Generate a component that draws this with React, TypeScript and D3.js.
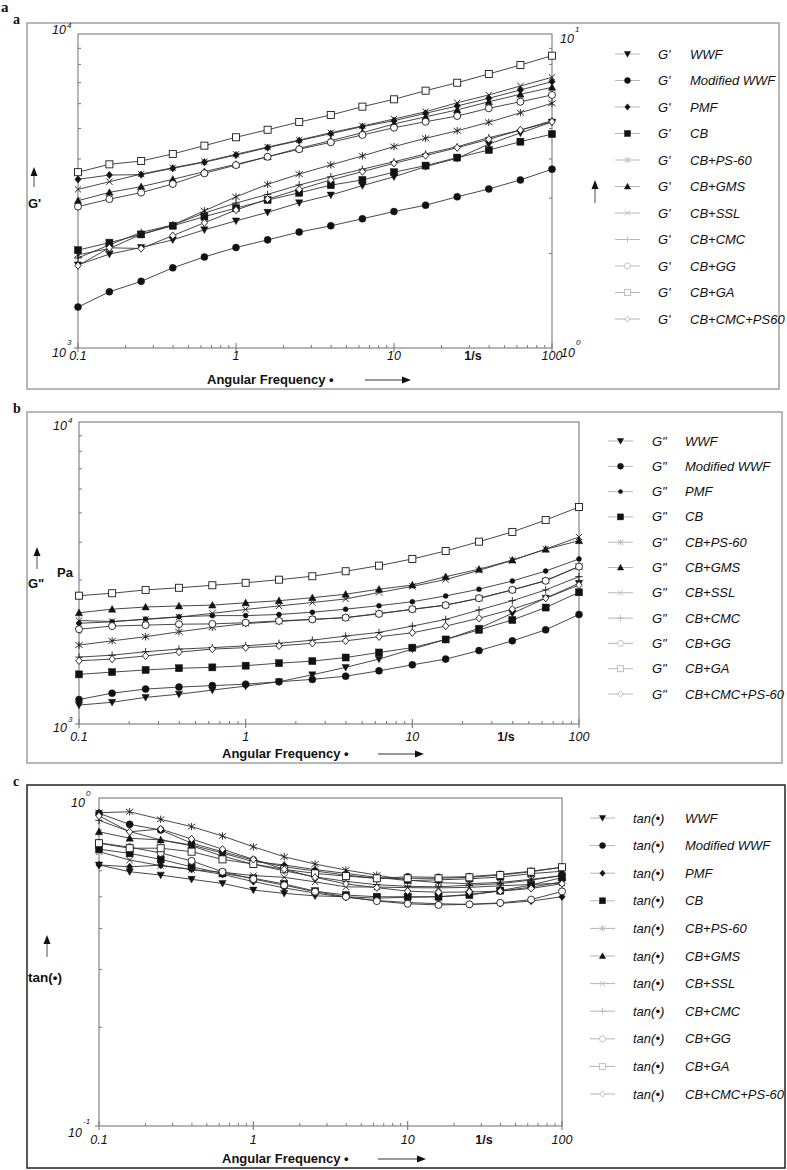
import React from 'react';
import * as d3 from 'd3';

// ---------- DATA ----------
const FREQ = [0.1, 0.158, 0.251, 0.398, 0.631, 1, 1.585, 2.512, 3.981, 6.31, 10, 15.85, 25.12, 39.81, 63.1, 100];
const NAMES_A = ['WWF', 'Modified WWF', 'PMF', 'CB', 'CB+PS-60', 'CB+GMS', 'CB+SSL', 'CB+CMC', 'CB+GG', 'CB+GA', 'CB+CMC+PS60'];
const NAMES_BC = ['WWF', 'Modified WWF', 'PMF', 'CB', 'CB+PS-60', 'CB+GMS', 'CB+SSL', 'CB+CMC', 'CB+GG', 'CB+GA', 'CB+CMC+PS-60'];
const X_TICK_LABELS = ['0.1', '1', '10', '100'];

// Panel a: G' (Pa)
const gp_WWF = [1840, 1990, 2090, 2210, 2380, 2540, 2705, 2900, 3070, 3290, 3510, 3780, 4020, 4460, 4840, 5245];
const gp_ModWWF = [1350, 1510, 1630, 1800, 1950, 2090, 2210, 2340, 2450, 2580, 2720, 2850, 3030, 3210, 3430, 3710];
const gp_PMF = [3445, 3555, 3565, 3735, 3905, 4115, 4345, 4575, 4815, 5070, 5295, 5590, 5900, 6240, 6635, 7050];
const gp_CB = [2050, 2165, 2300, 2450, 2620, 2790, 2960, 3120, 3300, 3430, 3630, 3810, 4040, 4270, 4540, 4800];
const gp_PS60 = [1980, 2075, 2300, 2465, 2735, 3030, 3320, 3580, 3830, 4090, 4380, 4655, 4920, 5235, 5615, 6015];
const gp_GMS = [2945, 3130, 3265, 3445, 3645, 3845, 4065, 4325, 4575, 4850, 5170, 5450, 5730, 6085, 6425, 6765];
const gp_SSL = [3200, 3385, 3580, 3750, 3920, 4140, 4365, 4595, 4850, 5095, 5360, 5655, 6040, 6395, 6830, 7280];
const gp_CMC = [1935, 2130, 2335, 2465, 2690, 2895, 3085, 3305, 3510, 3710, 3920, 4150, 4375, 4675, 4945, 5295];
const gp_GG = [2820, 2980, 3125, 3330, 3600, 3825, 4065, 4295, 4520, 4770, 5030, 5255, 5480, 5800, 6085, 6395];
const gp_GA = [3630, 3845, 3940, 4150, 4410, 4690, 4955, 5245, 5520, 5870, 6195, 6600, 6995, 7460, 7965, 8530];
const gp_CMCPS60 = [1830, 2085, 2075, 2280, 2505, 2750, 2980, 3200, 3430, 3645, 3875, 4100, 4345, 4620, 4945, 5255];

// Panel b: G'' (Pa)
const gpp_WWF = [1155, 1180, 1225, 1255, 1295, 1335, 1380, 1455, 1540, 1640, 1770, 1905, 2075, 2325, 2610, 2925];
const gpp_ModWWF = [1205, 1265, 1305, 1325, 1340, 1355, 1380, 1405, 1440, 1500, 1570, 1640, 1750, 1885, 2050, 2305];
const gpp_PMF = [2155, 2180, 2225, 2265, 2285, 2285, 2305, 2345, 2400, 2465, 2540, 2655, 2795, 2975, 3210, 3520];
const gpp_CB = [1460, 1485, 1510, 1530, 1540, 1560, 1590, 1615, 1660, 1725, 1790, 1905, 2050, 2210, 2430, 2730];
const gpp_PS60 = [1825, 1885, 1945, 2020, 2090, 2150, 2185, 2220, 2250, 2325, 2395, 2475, 2605, 2780, 2985, 3325];
const gpp_GMS = [2335, 2400, 2440, 2460, 2475, 2520, 2560, 2620, 2690, 2795, 2885, 3075, 3255, 3490, 3790, 4045];
const gpp_SSL = [2200, 2185, 2220, 2260, 2325, 2395, 2460, 2525, 2595, 2725, 2855, 3010, 3225, 3480, 3795, 4160];
const gpp_CMC = [1665, 1690, 1735, 1770, 1790, 1815, 1850, 1895, 1955, 2010, 2110, 2220, 2385, 2560, 2780, 3075];
const gpp_GG = [2060, 2110, 2125, 2140, 2145, 2165, 2195, 2220, 2250, 2315, 2400, 2475, 2610, 2780, 2980, 3320];
const gpp_GA = [2660, 2710, 2780, 2825, 2880, 2935, 3005, 3085, 3205, 3345, 3520, 3740, 4015, 4325, 4735, 5230];
const gpp_CMCPS60 = [1620, 1640, 1680, 1730, 1770, 1790, 1815, 1850, 1885, 1945, 2005, 2110, 2240, 2400, 2610, 2885];

// Panel c: tan(delta)
const tan_WWF = [0.625, 0.596, 0.582, 0.565, 0.549, 0.524, 0.512, 0.503, 0.5, 0.495, 0.498, 0.5, 0.508, 0.52, 0.535, 0.555];
const tan_ModWWF = [0.898, 0.831, 0.799, 0.728, 0.686, 0.647, 0.617, 0.599, 0.582, 0.569, 0.575, 0.573, 0.576, 0.585, 0.598, 0.615];
const tan_PMF = [0.625, 0.617, 0.624, 0.606, 0.585, 0.556, 0.532, 0.513, 0.498, 0.487, 0.48, 0.476, 0.474, 0.477, 0.485, 0.5];
const tan_CB = [0.698, 0.678, 0.65, 0.617, 0.589, 0.569, 0.547, 0.52, 0.506, 0.5, 0.5, 0.5, 0.506, 0.522, 0.543, 0.572];
const tan_PS60 = [0.902, 0.908, 0.861, 0.818, 0.766, 0.71, 0.662, 0.629, 0.603, 0.582, 0.562, 0.552, 0.548, 0.553, 0.565, 0.58];
const tan_GMS = [0.789, 0.754, 0.745, 0.719, 0.679, 0.64, 0.625, 0.605, 0.589, 0.573, 0.56, 0.563, 0.567, 0.574, 0.588, 0.598];
const tan_SSL = [0.686, 0.647, 0.622, 0.605, 0.594, 0.58, 0.573, 0.555, 0.536, 0.535, 0.533, 0.532, 0.534, 0.54, 0.545, 0.55];
const tan_CMC = [0.855, 0.79, 0.745, 0.715, 0.665, 0.628, 0.6, 0.575, 0.557, 0.544, 0.538, 0.536, 0.542, 0.548, 0.562, 0.58];
const tan_GG = [0.73, 0.708, 0.68, 0.643, 0.596, 0.566, 0.542, 0.518, 0.5, 0.485, 0.476, 0.472, 0.474, 0.479, 0.49, 0.519];
const tan_GA = [0.728, 0.703, 0.703, 0.686, 0.65, 0.629, 0.606, 0.589, 0.578, 0.569, 0.569, 0.569, 0.573, 0.582, 0.596, 0.615];
const tan_CMCPS60 = [0.882, 0.789, 0.804, 0.75, 0.698, 0.65, 0.606, 0.573, 0.547, 0.533, 0.52, 0.516, 0.517, 0.52, 0.53, 0.548];

const DATA_A = [gp_WWF, gp_ModWWF, gp_PMF, gp_CB, gp_PS60, gp_GMS, gp_SSL, gp_CMC, gp_GG, gp_GA, gp_CMCPS60];
const DATA_B = [gpp_WWF, gpp_ModWWF, gpp_PMF, gpp_CB, gpp_PS60, gpp_GMS, gpp_SSL, gpp_CMC, gpp_GG, gpp_GA, gpp_CMCPS60];
const DATA_C = [tan_WWF, tan_ModWWF, tan_PMF, tan_CB, tan_PS60, tan_GMS, tan_SSL, tan_CMC, tan_GG, tan_GA, tan_CMCPS60];

const MARKERS_A = ['triDown', 'circle', 'diamond', 'square', 'asterisk', 'triUp', 'x', 'plus', 'circleOpen', 'squareOpen', 'diamondOpen'];
const MARKERS_B = ['triDown', 'circle', 'dot', 'square', 'asterisk', 'triUp', 'x', 'plus', 'circleOpen', 'squareOpen', 'diamondOpen'];
const LEGEND_LIGHT = [false, false, false, false, true, false, true, true, true, true, true];

const SANS = '"Liberation Sans", Arial, Helvetica, sans-serif';
const SERIF = '"Liberation Serif", "Times New Roman", serif';

// ---------- MARKER ----------
function Marker({ t, x, y, light = false, k = 1 }: any) {
  const stroke = light ? '#bbb' : '#1a1a1a';
  const fill = light ? '#bbb' : '#111';
  const s = 3.7 * k;
  const sw = 0.9;
  switch (t) {
    case 'triDown':
      return <path d={`M${x - s},${y - s * 0.8}L${x + s},${y - s * 0.8}L${x},${y + s}Z`} fill={fill} stroke={stroke} strokeWidth={0.5} />;
    case 'triUp':
      return <path d={`M${x - s},${y + s * 0.8}L${x + s},${y + s * 0.8}L${x},${y - s}Z`} fill={fill} stroke={stroke} strokeWidth={0.5} />;
    case 'circle':
      return <circle cx={x} cy={y} r={s * 0.95} fill={fill} stroke={stroke} strokeWidth={0.5} />;
    case 'dot':
      return <circle cx={x} cy={y} r={s * 0.68} fill={fill} stroke={stroke} strokeWidth={0.4} />;
    case 'diamond':
      return <path d={`M${x},${y - s}L${x + s * 0.85},${y}L${x},${y + s}L${x - s * 0.85},${y}Z`} fill={fill} stroke={stroke} strokeWidth={0.5} />;
    case 'square':
      return <rect x={x - s * 0.95} y={y - s * 0.95} width={s * 1.9} height={s * 1.9} fill={fill} stroke={stroke} strokeWidth={0.5} />;
    case 'asterisk':
      return <path d={`M${x - s},${y - s * 0.75}L${x + s},${y + s * 0.75}M${x - s},${y + s * 0.75}L${x + s},${y - s * 0.75}M${x},${y - s}L${x},${y + s}`} fill="none" stroke={stroke} strokeWidth={sw} />;
    case 'x':
      return <path d={`M${x - s * 0.85},${y - s * 0.85}L${x + s * 0.85},${y + s * 0.85}M${x - s * 0.85},${y + s * 0.85}L${x + s * 0.85},${y - s * 0.85}`} fill="none" stroke={stroke} strokeWidth={sw} />;
    case 'plus':
      return <path d={`M${x - s},${y}L${x + s},${y}M${x},${y - s}L${x},${y + s}`} fill="none" stroke={stroke} strokeWidth={sw} />;
    case 'circleOpen':
      return <circle cx={x} cy={y} r={s * 0.95} fill="#fff" stroke={stroke} strokeWidth={sw} />;
    case 'squareOpen':
      return <rect x={x - s * 0.95} y={y - s * 0.95} width={s * 1.9} height={s * 1.9} fill="#fff" stroke={stroke} strokeWidth={sw} />;
    case 'diamondOpen':
      return <path d={`M${x},${y - s}L${x + s * 0.85},${y}L${x},${y + s}L${x - s * 0.85},${y}Z`} fill="#fff" stroke={stroke} strokeWidth={sw} />;
    default:
      return null;
  }
}

function UpArrow({ x, y1, y2 }: any) {
  return (
    <g>
      <line x1={x} x2={x} y1={y1 + 6} y2={y2} stroke="#777" strokeWidth={1.3} />
      <path d={`M${x - 3.5},${y1 + 9}L${x + 3.5},${y1 + 9}L${x},${y1}Z`} fill="#111" />
    </g>
  );
}

function RightArrow({ x1, x2, y }: any) {
  return (
    <g>
      <line x1={x1} x2={x2 - 6} y1={y} y2={y} stroke="#777" strokeWidth={1.3} />
      <path d={`M${x2 - 9},${y - 3.5}L${x2 - 9},${y + 3.5}L${x2},${y}Z`} fill="#111" />
    </g>
  );
}

function Pow({ x, y, sup, supDy = -11, anchorEnd = true }: any) {
  return (
    <g fontFamily={SANS} fontStyle="italic" fill="#111">
      <text x={x} y={y} fontSize={12.5} textAnchor={anchorEnd ? 'end' : 'start'}>10</text>
      <text x={anchorEnd ? x + 1 : x + 15} y={y + supDy} fontSize={8}>{sup}</text>
    </g>
  );
}

function Panel({ cfg }: any) {
  const { frame, plot, yDomain, data, markers, names, legend, prefix } = cfg;
  const xs = d3.scaleLog().domain([0.1, 100]).range([plot.l, plot.r]);
  const ys = d3.scaleLog().domain(yDomain).range([plot.b, plot.t]);
  const line = d3.line<number>().x((_, i) => xs(FREQ[i])).y((d) => ys(d));
  const minorX: number[] = [];
  [0.1, 1, 10].forEach((d) => { for (let k = 2; k <= 9; k++) minorX.push(d * k); });
  const minorY: number[] = [];
  for (let k = 2; k <= 9; k++) minorY.push(yDomain[0] * k);
  const axisColor = '#7a7a7a';
  return (
    <g>
      <rect x={frame.x1} y={frame.y1} width={frame.x2 - frame.x1} height={frame.y2 - frame.y1} fill="none" stroke={frame.color} strokeWidth={1.5} />
      <rect x={plot.l} y={plot.t} width={plot.r - plot.l} height={plot.b - plot.t} fill="none" stroke={axisColor} strokeWidth={1.1} />
      {minorX.map((v, i) => (
        <line key={'mx' + i} x1={xs(v)} x2={xs(v)} y1={plot.b} y2={plot.b - 3} stroke={axisColor} strokeWidth={1} />
      ))}
      {[0.1, 1, 10, 100].map((v, i) => (
        <line key={'Mx' + i} x1={xs(v)} x2={xs(v)} y1={plot.b - 5} y2={plot.b + 4} stroke={axisColor} strokeWidth={1.1} />
      ))}
      {minorY.map((v, i) => (
        <line key={'my' + i} x1={plot.l} x2={plot.l + 3} y1={ys(v)} y2={ys(v)} stroke={axisColor} strokeWidth={1} />
      ))}
      <line x1={plot.l - 4} x2={plot.l} y1={plot.b} y2={plot.b} stroke={axisColor} strokeWidth={1.1} />
      {cfg.rightTicks && minorY.map((v, i) => (
        <line key={'ry' + i} x1={plot.r} x2={plot.r - 3} y1={ys(v)} y2={ys(v)} stroke={axisColor} strokeWidth={1} />
      ))}
      <g fontFamily={SANS} fontStyle="italic" fontSize={12.5} fill="#111" textAnchor="middle">
        {[0.1, 1, 10, 100].map((v, i) => (
          <text key={'xl' + i} x={xs(v)} y={cfg.xLabelY}>{X_TICK_LABELS[i]}</text>
        ))}
      </g>
      <text x={cfg.unitX} y={cfg.xLabelY} fontFamily={SANS} fontWeight="bold" fontSize={12.5} textAnchor="middle" fill="#111">1/s</text>
      <text x={cfg.axisTitleX} y={cfg.axisTitleY} fontFamily={SANS} fontWeight="bold" fontSize={13} fill="#111">Angular Frequency •</text>
      <RightArrow x1={cfg.arrow.x1} x2={cfg.arrow.x2} y={cfg.arrow.y} />
      {cfg.yPow.map((p: any, i: number) => <Pow key={'yp' + i} {...p} />)}
      {cfg.upArrows.map((a: any, i: number) => <UpArrow key={'ua' + i} {...a} />)}
      {cfg.yTexts.map((t: any, i: number) => (
        <text key={'yt' + i} x={t.x} y={t.y} fontFamily={SANS} fontWeight="bold" fontSize={t.size || 13} fill="#111">{t.text}</text>
      ))}
      {data.map((arr: number[], si: number) => (
        <path key={'l' + si} d={line(arr) || ''} fill="none" stroke="#333" strokeWidth={0.9} />
      ))}
      {data.map((arr: number[], si: number) => (
        <g key={'m' + si}>
          {arr.map((v, i) => <Marker key={i} t={markers[si]} x={xs(FREQ[i])} y={ys(v)} />)}
        </g>
      ))}
      {names.map((n: string, i: number) => {
        const y = legend.y0 + i * legend.dy;
        const light = LEGEND_LIGHT[i];
        return (
          <g key={'lg' + i}>
            <line x1={legend.lx1} x2={legend.lx2} y1={y} y2={y} stroke="#b5b5b5" strokeWidth={1} />
            <Marker t={markers[i]} x={(legend.lx1 + legend.lx2) / 2} y={y} light={light} k={0.85} />
            <text x={legend.px} y={y + 4.5} fontFamily={SANS} fontStyle="italic" fontSize={legend.fs} fill="#111">{prefix}</text>
            <text x={legend.nx} y={y + 4.5} fontFamily={SANS} fontStyle="italic" fontSize={legend.fs} fill="#111">{n}</text>
          </g>
        );
      })}
    </g>
  );
}

const PANEL_A = {
  frame: { x1: 27, y1: 23, x2: 779, y2: 389, color: '#a0a0a0' },
  plot: { l: 78, r: 552, t: 34, b: 348 },
  yDomain: [1000, 10000],
  data: DATA_A, markers: MARKERS_A, names: NAMES_A, prefix: "G'",
  legend: { y0: 54, dy: 26.5, lx1: 615, lx2: 640, px: 658, nx: 690, fs: 13 },
  rightTicks: true,
  xLabelY: 360, unitX: 473, axisTitleX: 207, axisTitleY: 384,
  arrow: { x1: 365, x2: 411, y: 380 },
  yPow: [
    { x: 66, y: 34, sup: '4', supDy: -6 },
    { x: 66, y: 357, sup: '3', supDy: -12 },
    { x: 560, y: 43, sup: '1', supDy: -11, anchorEnd: false },
    { x: 561, y: 357, sup: '0', supDy: -12, anchorEnd: false },
  ],
  upArrows: [{ x: 34, y1: 167, y2: 187 }, { x: 595, y1: 180, y2: 203 }],
  yTexts: [{ x: 28, y: 208, text: "G'" }],
};

const PANEL_B = {
  frame: { x1: 27, y1: 412, x2: 782, y2: 763, color: '#a0a0a0' },
  plot: { l: 79, r: 579, t: 422, b: 724 },
  yDomain: [1000, 10000],
  data: DATA_B, markers: MARKERS_B, names: NAMES_BC, prefix: 'G"',
  legend: { y0: 441, dy: 25.3, lx1: 608, lx2: 633, px: 652, nx: 685, fs: 13 },
  rightTicks: false,
  xLabelY: 741, unitX: 506, axisTitleX: 222, axisTitleY: 758,
  arrow: { x1: 378, x2: 424, y: 754 },
  yPow: [
    { x: 67, y: 430, sup: '4', supDy: -7 },
    { x: 67, y: 732, sup: '3', supDy: -10 },
  ],
  upArrows: [{ x: 37, y1: 547, y2: 569 }],
  yTexts: [{ x: 57, y: 577, text: 'Pa' }, { x: 28, y: 588, text: 'G"' }],
};

const PANEL_C = {
  frame: { x1: 27, y1: 785, x2: 785, y2: 1168, color: '#222' },
  plot: { l: 99, r: 562, t: 798, b: 1126 },
  yDomain: [0.1, 1],
  data: DATA_C, markers: MARKERS_A, names: NAMES_BC, prefix: 'tan(•)',
  legend: { y0: 818, dy: 27.6, lx1: 590, lx2: 615, px: 633, nx: 685, fs: 13 },
  rightTicks: false,
  xLabelY: 1144, unitX: 484, axisTitleX: 222, axisTitleY: 1163,
  arrow: { x1: 378, x2: 426, y: 1159 },
  yPow: [
    { x: 85, y: 807, sup: '0', supDy: -11 },
    { x: 82, y: 1137, sup: '-1', supDy: -13 },
  ],
  upArrows: [{ x: 47, y1: 935, y2: 957 }],
  yTexts: [{ x: 28, y: 982, text: 'tan(•)', size: 13.5 }],
};

export default function App() {
  return (
    <svg width={787} height={1170} viewBox="0 0 787 1170" style={{ position: 'absolute', left: 0, top: 0, background: '#fff' }}>
      <rect x={0} y={0} width={787} height={1170} fill="#fff" />
      <text x={1} y={12} fontFamily={SERIF} fontWeight="bold" fontSize={15} fill="#111">a</text>
      <text x={13} y={24} fontFamily={SERIF} fontWeight="bold" fontSize={14} fill="#111">a</text>
      <text x={13} y={413} fontFamily={SERIF} fontWeight="bold" fontSize={14} fill="#111">b</text>
      <text x={13} y={786} fontFamily={SERIF} fontWeight="bold" fontSize={14} fill="#111">c</text>
      <Panel cfg={PANEL_A} />
      <Panel cfg={PANEL_B} />
      <Panel cfg={PANEL_C} />
    </svg>
  );
}
